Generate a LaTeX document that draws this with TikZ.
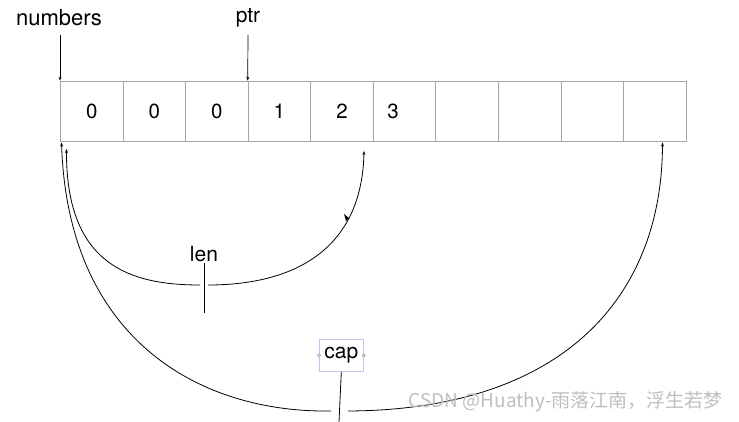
\documentclass[tikz,border=0pt]{standalone}
\usepackage{fontspec}
\setmainfont{TeX Gyre Heros}
\newfontfamily\cjkwm{Noto Sans CJK SC}
\usetikzlibrary{arrows.meta}
\begin{document}
\begin{tikzpicture}[x=1pt,y=-1pt,
  cell/.style={draw=gray!70,line width=0.9pt,minimum width=62.57pt,minimum height=60.5pt,inner sep=0pt,font=\fontsize{20.5}{20.5}\selectfont,anchor=north west},
  lbl/.style={font=\fontsize{21}{21}\selectfont,inner sep=1pt},
  ptrarrow/.style={-{Stealth[length=4pt,width=3pt]},line width=0.7pt},
  curvearrow/.style={{Stealth[length=4pt,width=3pt]}-,line width=0.8pt},
  plain/.style={line width=0.8pt}]
\useasboundingbox (0,0) rectangle (739,422);
\fill[white] (0,0) rectangle (739,422);
% cells
\foreach \i/\t in {0/0,1/0,2/0,3/1,4/2,5/{},6/{},7/{},8/{},9/{}}{
  \node[cell] (c\i) at ({60+\i*62.57},80.7) {\t};
}
\node[font=\fontsize{20.5}{20.5}\selectfont] (three) at (393,111) {3};
% labels
\node[lbl,font=\fontsize{22}{22}\selectfont] (numlbl) at (59,18) {numbers};
\node[lbl] (ptrlbl) at (248,18) {ptr};
\coordinate (numtop) at (60,35);
\coordinate (ptrtop) at (248,35);
\draw[ptrarrow] (numtop) -- (c0.north west);
\draw[ptrarrow] (ptrtop) -- (c3.north west);
% len
\node[lbl] (len) at (204,254) {len};
\coordinate (lenL) at (66.5,149);
\coordinate (lenR) at (364,151);
\coordinate (lenA) at (200,285);
\coordinate (lenB) at (208,285);
\coordinate (lenbot) at (204,313);
\draw[curvearrow] (lenL) .. controls (66,265) and (130,285) .. (lenA);
\draw[curvearrow] (lenR) .. controls (362,245) and (300,285) .. (lenB);
\draw[plain] (len.south) -- (lenbot);
\fill (344,214) -- (349,218) -- (346,221) -- cycle;
% cap
\node[lbl,draw=gray!40!blue!30,line width=0.7pt,minimum width=44pt,minimum height=32pt,inner sep=0pt] (cap) at (341.3,355.5) {cap};
\draw[gray,line width=0.4pt,fill=white] (cap.west) circle (1.6pt) (cap.east) circle (1.6pt);
\coordinate (capL) at (61.5,142.5);
\coordinate (capR) at (662.5,142.5);
\coordinate (capA) at (331,411);
\coordinate (capB) at (348,411);
\coordinate (capbot) at (339,422);
\draw[curvearrow] (capL) .. controls (68,340) and (200,413) .. (capA);
\draw[curvearrow] (capR) .. controls (662,300) and (560,410) .. (capB);
\draw[plain] (cap.south) -- (capbot);
% watermark
\node[text=gray!50,font=\cjkwm\fontsize{19}{19}\selectfont,anchor=east,inner sep=0pt] (wm) at (723,402) {CSDN @Huathy-雨落江南，浮生若梦};
\end{tikzpicture}
\end{document}
